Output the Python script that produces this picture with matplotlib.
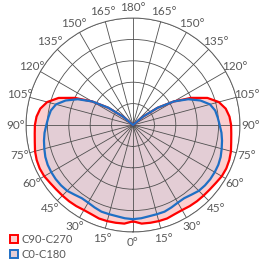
import numpy as np
import matplotlib
matplotlib.use("Agg")
import matplotlib.pyplot as plt
from matplotlib.lines import Line2D

# Angles (deg, 0 = down, 180 = up), half-curve mirrored on both sides
angles = [0, 5, 10, 15, 20, 25, 30, 35, 40, 45, 50, 55, 60, 65, 70, 75, 80, 85, 90,
          95, 100, 105, 110, 115, 120, 125, 130, 135, 140, 150, 160, 170, 180]
c90_c270 = [0.90, 0.925, 0.928, 0.93, 0.93, 0.92, 0.918, 0.925, 0.93, 0.933, 0.937, 0.945, 0.958,
            0.962, 0.958, 0.948, 0.932, 0.922, 0.917, 0.905, 0.88, 0.83, 0.74, 0.60, 0.44, 0.28,
            0.12, 0.0, 0.0, 0.0, 0.0, 0.0, 0.0]
c0_c180 = [0.88, 0.875, 0.866, 0.863, 0.862, 0.85, 0.838, 0.835, 0.85, 0.87, 0.878, 0.882, 0.882,
           0.88, 0.872, 0.858, 0.845, 0.83, 0.81, 0.795, 0.78, 0.745, 0.67, 0.57, 0.44, 0.28,
           0.12, 0.0, 0.0, 0.0, 0.0, 0.0, 0.0]
series_names = ["C90-C270", "C0-C180"]
tick_angles = list(range(0, 360, 15))
tick_labels = [f"{min(a, 360 - a)}°" for a in tick_angles]

def full(vals):
    a = np.array(angles, float)
    v = np.array(vals, float)
    th = np.concatenate([a, 360 - a[::-1][1:]])
    r = np.concatenate([v, v[::-1][1:]])
    return np.deg2rad(th), r

plt.rcParams['font.family'] = ['Lato', 'DejaVu Sans']
fig = plt.figure(figsize=(2.74, 2.60), dpi=100)
ax = fig.add_axes([0.0949, 0.1077, 0.781, 0.823], projection='polar')
ax.set_theta_zero_location('S')
ax.set_theta_direction(-1)
ax.set_ylim(0, 1.0)

grid_c = '#505050'
th_r, r_r = full(c90_c270)
th_b, r_b = full(c0_c180)
ax.fill(th_r, r_r, color='#fccfcf', zorder=1)
ax.fill(th_b, r_b, color='#e3cdd5', zorder=1.5)

ax.set_rticks([0.2, 0.4, 0.6, 0.8, 1.0])
ax.set_yticklabels([])
ax.set_thetagrids(tick_angles, tick_labels)
ax.grid(True, color=grid_c, lw=0.6, zorder=2)
ax.set_axisbelow(False)
ax.tick_params(axis='x', pad=-3, labelsize=8.5, labelcolor='#595959')
ax.spines['polar'].set_color('#707070')
ax.spines['polar'].set_linewidth(0.7)

ax.plot(th_r, r_r, color='#ff0000', lw=1.6, zorder=3)
ax.plot(th_b, r_b, color='#1f6fc5', lw=1.6, zorder=3.5)

handles = [Line2D([], [], ls='none', marker='s', ms=6, mfc='#fccfcf', mec='#ff0000', mew=1.4),
           Line2D([], [], ls='none', marker='s', ms=6, mfc='#e3cdd5', mec='#1f6fc5', mew=1.4)]
fig.legend(handles, series_names, loc='lower left', bbox_to_anchor=(0.005, -0.03),
           frameon=False, fontsize=8, labelcolor='#595959', handlelength=0.8,
           handletextpad=0.3, labelspacing=0.4, borderpad=0.2)

fig.savefig('out.png', dpi=100)
